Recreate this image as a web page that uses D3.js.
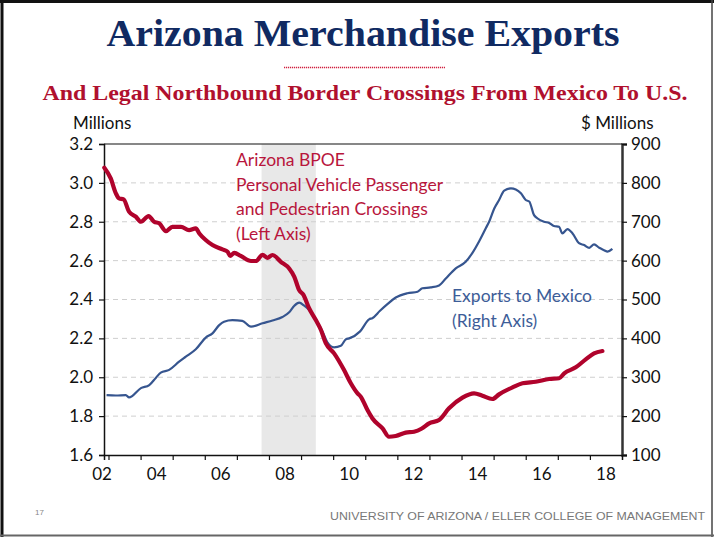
<!DOCTYPE html>
<html>
<head>
<meta charset="utf-8">
<script src="https://cdn.jsdelivr.net/npm/d3@7"></script>
<style>
  body { margin: 0; background: #fff; }
  svg { display: block; }
</style>
</head>
<body>
<svg width="714" height="537"></svg>
<script>
// crossings (left axis, millions), dates as decimal years
var crossDates = [2002.87, 2003.07, 2003.23, 2003.33, 2003.47, 2003.64, 2003.85, 2004.01, 2004.25, 2004.42,
  2004.58, 2004.79, 2004.99, 2005.26, 2005.51, 2005.72, 2005.83, 2006.03, 2006.24, 2006.55,
  2006.71, 2006.79, 2006.92, 2007.12, 2007.44, 2007.59, 2007.80, 2007.95, 2008.11, 2008.37,
  2008.63, 2008.79, 2008.94, 2009.07, 2009.25, 2009.46, 2009.62, 2009.77, 2010.03, 2010.34,
  2010.55, 2010.76, 2010.86, 2011.07, 2011.22, 2011.54, 2011.74, 2011.95, 2012.26, 2012.52,
  2012.75, 2012.99, 2013.30, 2013.61, 2014.03, 2014.39, 2014.65, 2014.96, 2015.17, 2015.59,
  2015.90, 2016.31, 2016.73, 2017.04, 2017.20, 2017.56, 2017.87, 2018.13, 2018.39];
var crossValues = [3.078, 3.023, 2.946, 2.92, 2.915, 2.852, 2.826, 2.80, 2.829, 2.80,
  2.792, 2.752, 2.774, 2.774, 2.757, 2.766, 2.740, 2.706, 2.68, 2.658,
  2.646, 2.624, 2.64, 2.624, 2.598, 2.598, 2.630, 2.614, 2.629, 2.594,
  2.56, 2.517, 2.449, 2.425, 2.355, 2.294, 2.243, 2.175, 2.123, 2.037,
  1.969, 1.917, 1.90, 1.831, 1.789, 1.737, 1.694, 1.698, 1.715, 1.72,
  1.735, 1.763, 1.78, 1.84, 1.895, 1.917, 1.905, 1.888, 1.912, 1.948,
  1.969, 1.977, 1.991, 1.995, 2.02, 2.051, 2.092, 2.123, 2.135];

// exports to Mexico (right axis, $ millions)
var exportDates = [2002.94, 2003.23, 2003.54, 2003.64, 2004.01, 2004.27, 2004.48, 2004.63, 2004.89, 2005.20,
  2005.41, 2005.72, 2006.03, 2006.24, 2006.45, 2006.60, 2006.86, 2007.17, 2007.44, 2007.80,
  2008.11, 2008.42, 2008.63, 2008.79, 2008.94, 2009.10, 2009.25, 2009.46, 2009.56, 2009.67,
  2009.82, 2010.03, 2010.24, 2010.40, 2010.50, 2010.84, 2011.12, 2011.22, 2011.46, 2011.69,
  2011.95, 2012.31, 2012.63, 2012.78, 2013.04, 2013.30, 2013.51, 2013.82, 2014.13, 2014.34,
  2014.55, 2014.76, 2014.86, 2015.02, 2015.17, 2015.33, 2015.54, 2015.69, 2015.85, 2016.00,
  2016.11, 2016.26, 2016.36, 2016.57, 2016.73, 2016.88, 2017.04, 2017.14, 2017.30, 2017.46,
  2017.66, 2017.82, 2017.98, 2018.13, 2018.29, 2018.44, 2018.55, 2018.70];
var exportValues = [254, 253, 254, 248, 272, 280, 299, 312, 319, 340,
  353, 372, 402, 413, 434, 443, 447, 445, 430, 439,
  446, 455, 467, 484, 492, 484, 473, 447, 434, 417,
  390, 377, 381, 398, 400, 418, 449, 452, 471, 488,
  505, 516, 520, 529, 531, 536, 554, 580, 597, 620,
  650, 684, 700, 734, 756, 780, 786, 783, 773, 756,
  752, 717, 709, 700, 697, 689, 687, 670, 681, 670,
  645, 640, 633, 642, 633, 627, 623, 630];

var leftTicks = [1.6, 1.8, 2.0, 2.2, 2.4, 2.6, 2.8, 3.0, 3.2];
var rightTicks = [100, 200, 300, 400, 500, 600, 700, 800, 900];
var yearTicks = [2003, 2004, 2005, 2006, 2007, 2008, 2009, 2010, 2011, 2012, 2013, 2014, 2015, 2016, 2017, 2018];
var yearLabels = ["02", "04", "06", "08", "10", "12", "14", "16", "18"];
var labelYears = [2002, 2004, 2006, 2008, 2010, 2012, 2014, 2016, 2018];
var recession = [2007.77, 2009.46];

var red = "#b0032c", blue = "#36558f";
var svg = d3.select("svg");

var x = d3.scaleLinear().domain([2002.86, 2019.0]).range([104, 622]);
var yL = d3.scaleLinear().domain([1.6, 3.2]).range([455, 144]);
var yR = d3.scaleLinear().domain([100, 900]).range([455, 144]);

// frame
svg.append("line").attr("x1", 2).attr("x2", 2).attr("y1", 0).attr("y2", 537).attr("stroke", "#111").attr("stroke-width", 3);
svg.append("line").attr("x1", 0).attr("x2", 714).attr("y1", 1.5).attr("y2", 1.5).attr("stroke", "#111").attr("stroke-width", 3);
svg.append("line").attr("x1", 712).attr("x2", 712).attr("y1", 0).attr("y2", 537).attr("stroke", "#444").attr("stroke-width", 1.5);
svg.append("line").attr("x1", 0).attr("x2", 714).attr("y1", 535.5).attr("y2", 535.5).attr("stroke", "#666").attr("stroke-width", 2);

// titles
svg.append("text").attr("x", 363).attr("y", 46)
  .attr("text-anchor", "middle").attr("font-family", "Liberation Serif").attr("font-weight", "bold")
  .attr("font-size", "38px").attr("fill", "#102a62")
  .attr("textLength", 513).attr("lengthAdjust", "spacingAndGlyphs")
  .text("Arizona Merchandise Exports");
svg.append("line").attr("x1", 284).attr("x2", 445).attr("y1", 67.5).attr("y2", 67.5)
  .attr("stroke", "#d0203f").attr("stroke-width", 1.3).attr("stroke-dasharray", "1.2,0.8");
svg.append("text").attr("x", 365).attr("y", 100)
  .attr("text-anchor", "middle").attr("font-family", "Liberation Serif").attr("font-weight", "bold")
  .attr("font-size", "21px").attr("fill", "#b0102e")
  .attr("textLength", 645).attr("lengthAdjust", "spacingAndGlyphs")
  .text("And Legal Northbound Border Crossings From Mexico To U.S.");

svg.append("text").attr("x", 73).attr("y", 129).attr("font-family", "Lato").attr("font-size", "17px").attr("fill", "#111").text("Millions");
svg.append("text").attr("x", 581).attr("y", 129).attr("font-family", "Lato").attr("font-size", "17px").attr("fill", "#111").text("$ Millions");

// recession shading
svg.append("rect").attr("x", x(recession[0])).attr("y", 144)
  .attr("width", x(recession[1]) - x(recession[0])).attr("height", 311).attr("fill", "#e8e8e8");

// gridlines
svg.selectAll(".grid").data(leftTicks.slice(1, -1)).enter().append("line")
  .attr("x1", 104).attr("x2", 622)
  .attr("y1", function(d){ return yL(d); }).attr("y2", function(d){ return yL(d); })
  .attr("stroke", "#cfcfcf").attr("stroke-width", 1).attr("stroke-dasharray", "5,4");

// axes
var leftAxis = d3.axisLeft(yL).tickValues(leftTicks).tickSize(5).tickPadding(6).tickFormat(d3.format(".1f"));
var rightAxis = d3.axisRight(yR).tickValues(rightTicks).tickSize(5).tickPadding(4);
var bottomAxis = d3.axisBottom(x).tickValues(yearTicks).tickSize(5).tickFormat("");

var gl = svg.append("g").attr("transform", "translate(104,0)").call(leftAxis);
var gr = svg.append("g").attr("transform", "translate(622,0)").call(rightAxis);
var gb = svg.append("g").attr("transform", "translate(0,455)").call(bottomAxis);
[gl, gr, gb].forEach(function(g){
  g.select(".domain").attr("stroke", "#111").attr("stroke-width", 1.5);
  g.selectAll(".tick line").attr("stroke", "#111").attr("stroke-width", 1.2);
  g.selectAll("text").attr("font-family", "Lato").attr("font-size", "17px").attr("fill", "#111");
});
gr.select(".domain").attr("stroke", "#333").attr("stroke-width", 2.5);
svg.append("line").attr("x1", 104).attr("x2", 622).attr("y1", 144).attr("y2", 144).attr("stroke", "#111").attr("stroke-width", 1.2);

svg.selectAll(".ylab").data(yearLabels).enter().append("text")
  .attr("x", function(d, i){ return Math.max(x(labelYears[i] + 0.5), 102); })
  .attr("y", 480).attr("text-anchor", "middle")
  .attr("font-family", "Lato").attr("font-size", "17px").attr("fill", "#111")
  .text(function(d){ return d; });

// lines
var crossLine = d3.line().x(function(d){ return x(d[0]); }).y(function(d){ return yL(d[1]); }).curve(d3.curveMonotoneX);
var exportLine = d3.line().x(function(d){ return x(d[0]); }).y(function(d){ return yR(d[1]); }).curve(d3.curveMonotoneX);

svg.append("path").datum(d3.zip(exportDates, exportValues))
  .attr("d", exportLine).attr("fill", "none").attr("stroke", blue).attr("stroke-width", 2.2).attr("stroke-linejoin", "round");
svg.append("path").datum(d3.zip(crossDates, crossValues))
  .attr("d", crossLine).attr("fill", "none").attr("stroke", red).attr("stroke-width", 4.2)
  .attr("stroke-linejoin", "round").attr("stroke-linecap", "round");

// annotations
var redNote = ["Arizona BPOE", "Personal Vehicle Passenger", "and Pedestrian Crossings", "(Left Axis)"];
svg.selectAll(".rnote").data(redNote).enter().append("text")
  .attr("x", 236).attr("y", function(d, i){ return 166 + i * 24.6; })
  .attr("font-family", "Lato").attr("font-size", "17.5px").attr("fill", "#b8163c")
  .text(function(d){ return d; });
var blueNote = ["Exports to Mexico", "(Right Axis)"];
svg.selectAll(".bnote").data(blueNote).enter().append("text")
  .attr("x", 452).attr("y", function(d, i){ return 302 + i * 24.6; })
  .attr("font-family", "Lato").attr("font-size", "17.5px").attr("fill", "#3d5d98")
  .text(function(d){ return d; });

// footer
svg.append("text").attr("x", 35).attr("y", 515).attr("font-family", "Liberation Sans").attr("font-size", "8px").attr("fill", "#888").text("17");
svg.append("text").attr("x", 330).attr("y", 520)
  .attr("font-family", "Liberation Sans").attr("font-size", "11px").attr("fill", "#777")
  .attr("textLength", 375).attr("lengthAdjust", "spacingAndGlyphs")
  .text("UNIVERSITY OF ARIZONA / ELLER COLLEGE OF MANAGEMENT");
</script>
</body>
</html>
